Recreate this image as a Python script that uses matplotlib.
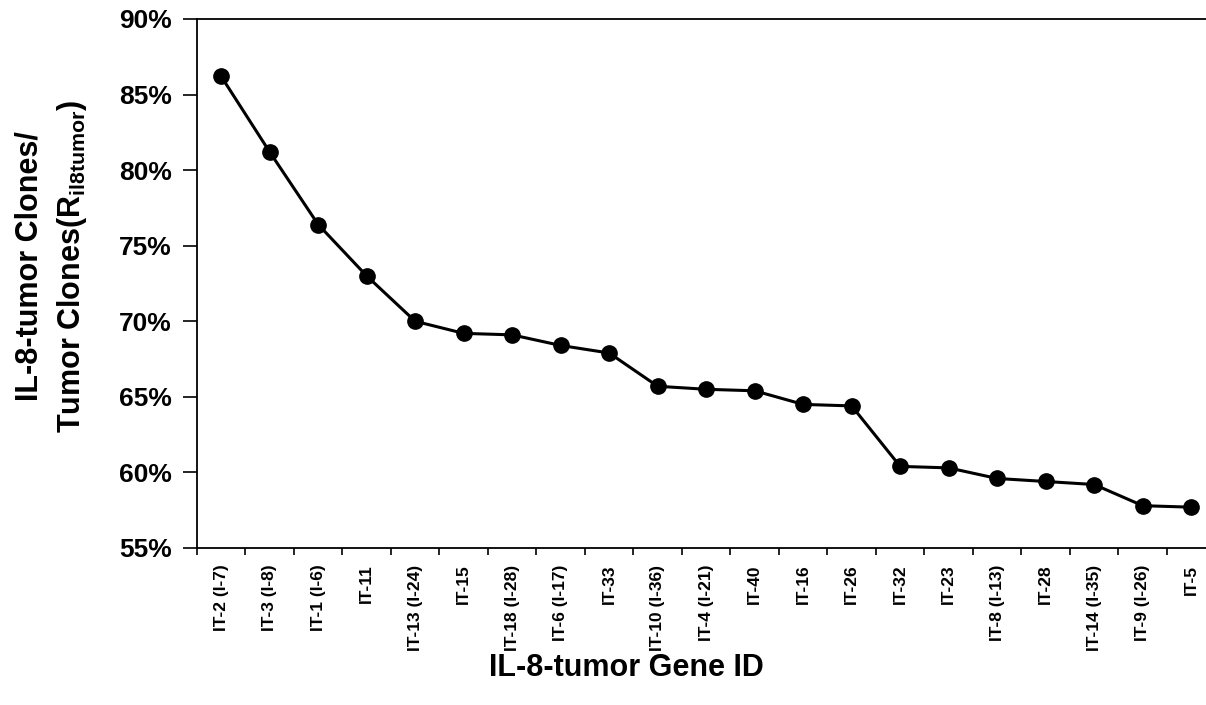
import matplotlib
matplotlib.use("Agg")
import matplotlib.pyplot as plt
from matplotlib.ticker import FuncFormatter, FixedLocator, NullFormatter

plt.rcParams["font.family"] = ["Liberation Sans", "DejaVu Sans"]
plt.rcParams["font.weight"] = "bold"
plt.rcParams["mathtext.fontset"] = "custom"
plt.rcParams["mathtext.rm"] = "Liberation Sans:bold"
plt.rcParams["mathtext.bf"] = "Liberation Sans:bold"
plt.rcParams["mathtext.it"] = "Liberation Sans:bold"

# データ
genes = ["IT-2 (I-7)", "IT-3 (I-8)", "IT-1 (I-6)", "IT-11", "IT-13 (I-24)",
         "IT-15", "IT-18 (I-28)", "IT-6 (I-17)", "IT-33", "IT-10 (I-36)",
         "IT-4 (I-21)", "IT-40", "IT-16", "IT-26", "IT-32", "IT-23",
         "IT-8 (I-13)", "IT-28", "IT-14 (I-35)", "IT-9 (I-26)", "IT-5"]
ratio = [86.2, 81.2, 76.4, 73.0, 70.0, 69.2, 69.1, 68.4, 67.9, 65.7,
         65.5, 65.4, 64.5, 64.4, 60.4, 60.3, 59.6, 59.4, 59.2, 57.8, 57.7]
yticks = [55, 60, 65, 70, 75, 80, 85, 90]

fig = plt.figure(figsize=(12.06, 7.05), dpi=100)
ax = fig.add_axes([0.1633, 0.2227, 0.8445, 0.7504])

x = list(range(len(genes)))
ax.plot(x, ratio, color="black", linewidth=2.2, marker="o", markersize=11,
        markerfacecolor="black", markeredgecolor="black")

ax.set_xlim(-0.5, len(genes) - 0.5)
ax.set_ylim(55, 90)
ax.set_yticks(yticks)
ax.yaxis.set_major_formatter(FuncFormatter(lambda v, p: f"{v:.0f}%"))

# 目盛りはカテゴリの境界、ラベルは中央
ax.xaxis.set_major_locator(FixedLocator([i - 0.5 for i in range(len(genes) + 1)]))
ax.xaxis.set_major_formatter(NullFormatter())
ax.xaxis.set_minor_locator(FixedLocator(x))
ax.set_xticklabels(genes, minor=True, rotation=90, fontsize=12.5, fontweight="bold",
                   va="top", ha="center")
ax.tick_params(axis="x", which="minor", length=0, pad=12)
ax.tick_params(axis="x", which="major", length=5, width=1.2, direction="out")
ax.tick_params(axis="y", length=10, width=1.2, direction="out", pad=8,
               labelsize=19)
for lbl in ax.get_yticklabels():
    lbl.set_fontweight("bold")

for s in ax.spines.values():
    s.set_linewidth(1.3)

fig.text(0.519, 0.052, "IL-8-tumor Gene ID", ha="center", va="center",
         fontsize=22, fontweight="bold")
fig.text(0.043, 0.622, "IL-8-tumor Clones/\nTumor Clones(R$_{\\mathbf{il8tumor}}$)",
         rotation=90, ha="center", va="center", fontsize=22, fontweight="bold",
         multialignment="center", linespacing=1.45)

plt.savefig("out.png", dpi=100)
